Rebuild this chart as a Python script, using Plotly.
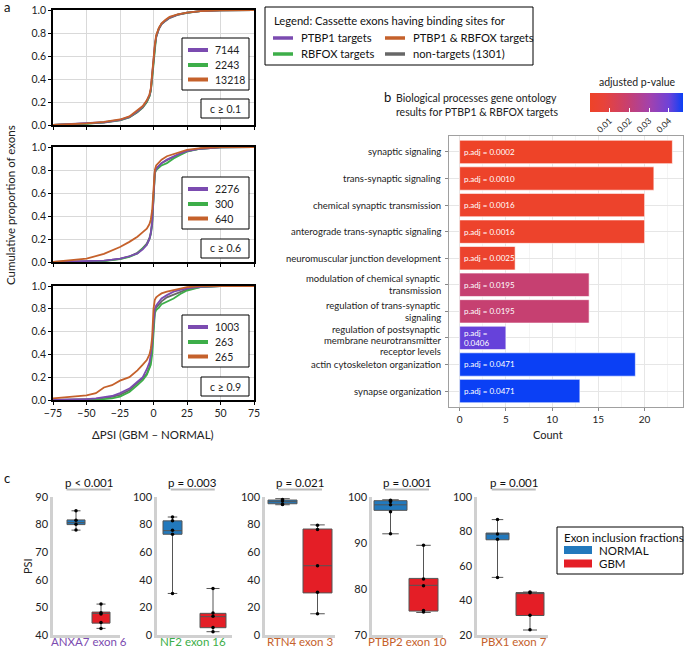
import plotly.graph_objects as go

W, H = 685, 650
def fx(p): return p / W
def fy(p): return 1 - p / H

FONT = "Lato"

# ---------------- Panel a data ----------------
series_names = ["PTBP1 targets", "RBFOX targets", "PTBP1 & RBFOX targets", "non-targets (1301)"]
series_colors = ["#7B4BB0", "#3DAE49", "#C5612B", "#676767"]
thresholds = ["c ≥ 0.1", "c ≥ 0.6", "c ≥ 0.9"]
counts_c01 = [7144, 2243, 13218]
counts_c06 = [2276, 300, 640]
counts_c09 = [1003, 263, 265]

c01_x = [-75, -62, -50, -37, -25, -18, -12, -8, -5, -3, -2, -1, 0, 1, 2, 4, 6, 9, 12, 18, 25, 35, 50, 75]
c01_ptbp1 = [0.0, 0.006, 0.012, 0.024, 0.044, 0.07, 0.12, 0.16, 0.21, 0.26, 0.31, 0.41, 0.56, 0.69, 0.77, 0.84, 0.88, 0.91, 0.935, 0.96, 0.977, 0.99, 0.998, 1.0]
c01_rbfox = [0.0, 0.005, 0.011, 0.022, 0.042, 0.068, 0.115, 0.155, 0.2, 0.25, 0.3, 0.4, 0.55, 0.69, 0.77, 0.84, 0.88, 0.91, 0.935, 0.96, 0.976, 0.99, 0.998, 1.0]
c01_both = [0.0, 0.007, 0.014, 0.027, 0.048, 0.075, 0.125, 0.165, 0.215, 0.265, 0.32, 0.42, 0.57, 0.7, 0.78, 0.845, 0.885, 0.915, 0.94, 0.962, 0.978, 0.99, 0.998, 1.0]
c01_non = [0.0, 0.005, 0.01, 0.02, 0.04, 0.065, 0.11, 0.15, 0.2, 0.25, 0.3, 0.4, 0.55, 0.68, 0.76, 0.835, 0.875, 0.905, 0.93, 0.958, 0.975, 0.99, 0.998, 1.0]

c06_x = [-75, -62, -50, -37, -31, -25, -18, -12, -8, -5, -3, -2, -1, 0, 1, 2, 4, 6, 10, 15, 20, 25, 35, 50, 75]
c06_ptbp1 = [0.0, 0.002, 0.005, 0.012, 0.02, 0.03, 0.05, 0.075, 0.11, 0.15, 0.2, 0.25, 0.34, 0.62, 0.78, 0.81, 0.84, 0.86, 0.89, 0.92, 0.945, 0.965, 0.985, 0.998, 1.0]
c06_rbfox = [0.0, 0.0, 0.003, 0.008, 0.015, 0.025, 0.045, 0.075, 0.12, 0.15, 0.2, 0.24, 0.32, 0.6, 0.77, 0.8, 0.82, 0.84, 0.86, 0.9, 0.93, 0.96, 0.985, 0.998, 1.0]
c06_both = [0.0, 0.015, 0.03, 0.07, 0.1, 0.13, 0.175, 0.22, 0.26, 0.29, 0.33, 0.37, 0.45, 0.62, 0.8, 0.84, 0.87, 0.89, 0.92, 0.94, 0.96, 0.975, 0.99, 1.0, 1.0]
c06_non = [0.0, 0.002, 0.004, 0.01, 0.018, 0.028, 0.048, 0.08, 0.12, 0.16, 0.21, 0.26, 0.35, 0.61, 0.78, 0.81, 0.84, 0.86, 0.885, 0.915, 0.94, 0.965, 0.985, 0.998, 1.0]

c09_x = [-75, -62, -50, -43, -37, -31, -25, -18, -12, -8, -5, -3, -2, -1, 0, 1, 2, 4, 6, 10, 15, 20, 25, 35, 50, 75]
c09_ptbp1 = [0.0, 0.003, 0.008, 0.015, 0.023, 0.035, 0.06, 0.1, 0.16, 0.2, 0.27, 0.33, 0.4, 0.5, 0.67, 0.8, 0.83, 0.86, 0.89, 0.92, 0.95, 0.965, 0.98, 0.993, 1.0, 1.0]
c09_rbfox = [0.0, 0.0, 0.0, 0.003, 0.008, 0.015, 0.03, 0.07, 0.13, 0.175, 0.22, 0.27, 0.31, 0.4, 0.61, 0.76, 0.79, 0.81, 0.84, 0.86, 0.89, 0.93, 0.96, 0.99, 1.0, 1.0]
c09_both = [0.015, 0.03, 0.04, 0.06, 0.11, 0.13, 0.17, 0.2, 0.26, 0.31, 0.35, 0.4, 0.45, 0.55, 0.8, 0.88, 0.9, 0.92, 0.935, 0.95, 0.965, 0.98, 0.99, 1.0, 1.0, 1.0]
c09_non = [0.0, 0.002, 0.005, 0.01, 0.018, 0.028, 0.045, 0.085, 0.15, 0.19, 0.23, 0.29, 0.35, 0.45, 0.64, 0.78, 0.81, 0.84, 0.865, 0.9, 0.925, 0.95, 0.97, 0.99, 1.0, 1.0]

x_ticks_a = [-75, -50, -25, 0, 25, 50, 75]
y_ticks_a = [0.0, 0.2, 0.4, 0.6, 0.8, 1.0]

# ---------------- Panel b data ----------------
go_terms = [
    "synaptic signaling",
    "trans-synaptic signaling",
    "chemical synaptic transmission",
    "anterograde trans-synaptic signaling",
    "neuromuscular junction development",
    "modulation of chemical synaptic<br>transmission",
    "regulation of trans-synaptic<br>signaling",
    "regulation of postsynaptic<br>membrane neurotransmitter<br>receptor levels",
    "actin cytoskeleton organization",
    "synapse organization",
]
go_counts = [23, 21, 20, 20, 6, 14, 14, 5, 19, 13]
go_padj = [0.0002, 0.0010, 0.0016, 0.0016, 0.0025, 0.0195, 0.0195, 0.0406, 0.0471, 0.0471]
count_ticks = [0, 5, 10, 15, 20]
padj_ticks = [0.01, 0.02, 0.03, 0.04]

# ---------------- Panel c data ----------------
genes = ["ANXA7 exon 6", "NF2 exon 16", "RTN4 exon 3", "PTBP2 exon 10", "PBX1 exon 7"]
gene_colors = ["#7B4BB0", "#3DAE49", "#C5612B", "#C5612B", "#C5612B"]
p_labels = ["p < 0.001", "p = 0.003", "p = 0.021", "p = 0.001", "p = 0.001"]
groups = ["NORMAL", "GBM"]
group_colors = ["#2279BD", "#E41E26"]
# stats: [low whisker, q1, median, q3, high whisker]
normal_stats = [
    [78.0, 80.0, 80.7, 81.7, 85.0],
    [30.1, 73.0, 75.6, 82.7, 85.5],
    [94.4, 95.1, 96.6, 97.8, 98.8],
    [92.0, 97.1, 98.3, 99.2, 99.4],
    [53.4, 75.2, 78.5, 79.1, 86.9],
]
gbm_stats = [
    [42.4, 44.3, 47.8, 48.3, 51.2],
    [2.4, 5.3, 13.3, 15.7, 33.7],
    [15.4, 30.5, 50.2, 76.8, 79.8],
    [74.9, 75.2, 80.8, 82.3, 89.5],
    [22.9, 31.3, 44.4, 44.6, 44.9],
]
normal_points = [
    [85.0, 81.6, 80.1, 78.0],
    [85.5, 82.7, 75.9, 73.0, 30.1],
    [98.2, 97.1, 95.0, 94.5],
    [99.3, 99.0, 98.3, 96.8, 92.0],
    [86.9, 78.5, 75.5, 53.4],
]
gbm_points = [
    [51.2, 48.1, 47.6, 44.5, 42.4],
    [33.7, 16.0, 13.5, 5.5, 2.4],
    [79.5, 76.5, 50.2, 31.0, 15.4],
    [89.5, 82.2, 80.7, 75.3, 75.0],
    [44.9, 44.5, 31.5, 23.0],
]
psi_ticks = [
    [40, 50, 60, 70, 80, 90],
    [0, 20, 40, 60, 80, 100],
    [0, 20, 40, 60, 80, 100],
    [70, 80, 90, 100],
    [20, 40, 60, 80, 100],
]
psi_ranges = [[40, 90], [0, 100], [0, 100], [70, 100], [20, 100]]

# ---------------- Layout geometry (pixels) ----------------
a_x = (53, 254)
a_y = [(10, 125), (147, 262), (286, 400)]
b_x = (449, 683)
b_y = (136, 407)
c_y = (497, 635)
# (left, right, center normal, center gbm, width normal, width gbm)
c_geo = [
    (53, 120, 76, 101, 18, 18),
    (157, 232, 172.5, 213, 19, 26),
    (265, 335, 282.5, 317.5, 29, 29),
    (372, 443, 390.5, 423.5, 33, 29),
    (477, 548, 497.5, 530, 23, 28),
]

fig = go.Figure()
layout = dict(
    width=W, height=H, margin=dict(l=0, r=0, t=0, b=0, autoexpand=False),
    paper_bgcolor="white", plot_bgcolor="white",
    font=dict(family=FONT, color="#222", size=11),
    showlegend=False,
)
shapes = []
annotations = []

# ---- Panel a ----
cdf_sets = [
    (c01_x, [c01_ptbp1, c01_rbfox, c01_both, c01_non], counts_c01),
    (c06_x, [c06_ptbp1, c06_rbfox, c06_both, c06_non], counts_c06),
    (c09_x, [c09_ptbp1, c09_rbfox, c09_both, c09_non], counts_c09),
]
draw_order = [3, 1, 0, 2]
for k, (xs, ys_list, cnts) in enumerate(cdf_sets):
    sfx = "" if k == 0 else str(k + 1)
    for s in draw_order:
        fig.add_trace(go.Scatter(
            x=xs, y=ys_list[s], mode="lines", name=series_names[s],
            line=dict(color=series_colors[s], width=1.8),
            xaxis="x" + sfx, yaxis="y" + sfx, hoverinfo="skip"))
    top, bot = a_y[k]
    layout["xaxis" + sfx] = dict(
        domain=[fx(a_x[0]), fx(a_x[1])], anchor="y" + sfx, range=[-75, 75],
        tickvals=x_ticks_a, showticklabels=(k == 2), ticks="outside", ticklen=3,
        tickcolor="black", showline=True, mirror=True, linecolor="black", linewidth=1.5,
        showgrid=True, gridcolor="#D9D9D9", zeroline=False,
        tickfont=dict(size=10.5, color="#222"))
    layout["yaxis" + sfx] = dict(
        domain=[fy(bot), fy(top)], anchor="x" + sfx, range=[0, 1],
        tickvals=y_ticks_a, tickformat=".1f", ticks="outside", ticklen=3,
        tickcolor="black", showline=True, mirror=True, linecolor="black", linewidth=1.5,
        showgrid=True, gridcolor="#D9D9D9", zeroline=False,
        tickfont=dict(size=10.5, color="#222"))
    box_top = [38, 177, 315][k]
    shapes.append(dict(type="rect", xref="paper", yref="paper",
                       x0=fx(182), x1=fx(249), y0=fy(box_top), y1=fy(box_top + 52),
                       line=dict(color="black", width=1), fillcolor="white"))
    rows = [box_top + 12, box_top + 27, box_top + 41.5]
    for i in range(3):
        shapes.append(dict(type="line", xref="paper", yref="paper",
                           x0=fx(188), x1=fx(208), y0=fy(rows[i]), y1=fy(rows[i]),
                           line=dict(color=series_colors[i], width=4)))
        annotations.append(dict(xref="paper", yref="paper", x=fx(213), y=fy(rows[i]),
                                text=str(cnts[i]), showarrow=False, xanchor="left",
                                yanchor="middle", font=dict(size=10.5, color="#222")))
    cb_top = [99, 239, 377][k]
    shapes.append(dict(type="rect", xref="paper", yref="paper",
                       x0=fx(201), x1=fx(249), y0=fy(cb_top), y1=fy(cb_top + 19),
                       line=dict(color="black", width=1), fillcolor="white"))
    annotations.append(dict(xref="paper", yref="paper", x=fx(225), y=fy(cb_top + 9.5),
                            text=thresholds[k], showarrow=False, xanchor="center",
                            yanchor="middle", font=dict(size=10.5, color="#222")))

annotations += [
    dict(xref="paper", yref="paper", x=fx(2), y=fy(7), text="a", showarrow=False,
         xanchor="left", yanchor="middle", font=dict(size=13, color="#111")),
    dict(xref="paper", yref="paper", x=fx(10), y=fy(205), text="Cumulative proportion of exons",
         showarrow=False, textangle=-90, xanchor="center", yanchor="middle",
         font=dict(size=11.5, color="#222")),
    dict(xref="paper", yref="paper", x=fx(153), y=fy(435), text="ΔPSI (GBM – NORMAL)",
         showarrow=False, xanchor="center", yanchor="middle", font=dict(size=11.5, color="#222")),
]

# main legend box
shapes.append(dict(type="rect", xref="paper", yref="paper", x0=fx(265), x1=fx(533),
                   y0=fy(7), y1=fy(65), line=dict(color="black", width=1), fillcolor="white"))
annotations.append(dict(xref="paper", yref="paper", x=fx(272), y=fy(20),
                        text="Legend: Cassette exons having binding sites for", showarrow=False,
                        xanchor="left", yanchor="middle", font=dict(size=11.2, color="#111")))
leg_pos = {0: (273, 38), 2: (385, 38), 1: (273, 54), 3: (385, 54)}
for s, (lx, ly) in leg_pos.items():
    shapes.append(dict(type="line", xref="paper", yref="paper", x0=fx(lx), x1=fx(lx + 20),
                       y0=fy(ly), y1=fy(ly), line=dict(color=series_colors[s], width=3.5)))
    annotations.append(dict(xref="paper", yref="paper", x=fx(lx + 26), y=fy(ly),
                            text=series_names[s], showarrow=False, xanchor="left",
                            yanchor="middle", font=dict(size=11.2, color="#111")))

# ---- Panel b ----
pmin, pmax = 0.0002, 0.0471
colorscale = [[0.0, "#EE4328"], [0.15, "#E8433A"], [0.4, "#C8406E"], [0.65, "#A142AE"],
              [0.85, "#6E42D8"], [1.0, "#0B40F5"]]
fig.add_trace(go.Bar(
    x=go_counts, y=go_terms, orientation="h", width=0.88,
    marker=dict(color=go_padj, colorscale=colorscale, cmin=pmin, cmax=pmax,
                line=dict(color="white", width=0.6),
                colorbar=dict(orientation="h", x=fx(636.5), xanchor="center",
                              y=fy(93), yanchor="top", len=93, lenmode="pixels",
                              thickness=19, thicknessmode="pixels",
                              tickvals=padj_ticks, ticktext=[f"{v:.2f}" for v in padj_ticks],
                              tickangle=-45, ticks="inside", tickcolor="white", ticklen=4,
                              outlinewidth=0, xpad=0, ypad=0,
                              tickfont=dict(size=8.5, color="#222"))),
    xaxis="x4", yaxis="y4", hoverinfo="skip"))
layout["xaxis4"] = dict(
    domain=[fx(b_x[0]), fx(b_x[1])], anchor="y4", range=[-1.15, 24.15],
    tickvals=count_ticks, ticks="outside", ticklen=3, tickcolor="#888",
    showline=True, mirror=True, linecolor="#A0A0A0", linewidth=1,
    showgrid=True, gridcolor="#E6E6E6", zeroline=False,
    minor=dict(dtick=2.5, tick0=0, showgrid=True, gridcolor="#F4F4F4"),
    tickfont=dict(size=10, color="#222"))
layout["yaxis4"] = dict(
    domain=[fy(b_y[1]), fy(b_y[0])], anchor="x4", type="category",
    categoryorder="array", categoryarray=go_terms, range=[len(go_terms) - 0.4, -0.6],
    ticks="outside", ticklen=3, tickcolor="#888", showticklabels=False,
    showline=True, mirror=True, linecolor="#A0A0A0", linewidth=1,
    showgrid=True, gridcolor="#E6E6E6", zeroline=False)
# category labels, one text per line with tight line spacing
line_offsets = {1: [0], 2: [-6, 6], 3: [-8.5, 2.5, 13.5]}
for term in go_terms:
    parts = term.split("<br>")
    for part, off in zip(parts, line_offsets[len(parts)]):
        annotations.append(dict(xref="paper", yref="y4", x=fx(442.5), y=term, yshift=-off,
                                text=part, showarrow=False, xanchor="right", yanchor="middle",
                                font=dict(size=9.5, color="#222")))
for term, cnt, pv in zip(go_terms, go_counts, go_padj):
    label = f"p.adj = {pv:.4f}" if cnt > 5 else f"p.adj =<br>{pv:.4f}"
    annotations.append(dict(xref="x4", yref="y4", x=0, y=term, text=label, showarrow=False,
                            xanchor="left", yanchor="middle", xshift=2, align="left",
                            font=dict(size=8, color="white")))
annotations += [
    dict(xref="paper", yref="paper", x=fx(382), y=fy(97), text="b", showarrow=False,
         xanchor="left", yanchor="middle", font=dict(size=13, color="#111")),
    dict(xref="paper", yref="paper", x=fx(394), y=fy(105),
         text="Biological processes gene ontology<br>results for PTBP1 & RBFOX targets",
         showarrow=False, xanchor="left", yanchor="middle", align="left",
         font=dict(size=10.5, color="#222")),
    dict(xref="paper", yref="paper", x=fx(548), y=fy(435), text="Count", showarrow=False,
         xanchor="center", yanchor="middle", font=dict(size=11, color="#222")),
    dict(xref="paper", yref="paper", x=fx(637), y=fy(82), text="adjusted p-value",
         showarrow=False, xanchor="center", yanchor="middle", font=dict(size=10.5, color="#222")),
]

# ---- Panel c ----
for g in range(5):
    n = g + 5
    xa, ya = f"x{n}", f"y{n}"
    L, R, cN, cG, wN, wG = c_geo[g]
    unit = cG - cN
    xr = [-(cN - L) / unit, 1 + (R - cG) / unit]
    for gi, (stats, pts, width_px) in enumerate([(normal_stats[g], normal_points[g], wN),
                                                  (gbm_stats[g], gbm_points[g], wG)]):
        fig.add_trace(go.Box(
            x=[groups[gi]], lowerfence=[stats[0]], q1=[stats[1]], median=[stats[2]],
            q3=[stats[3]], upperfence=[stats[4]], width=width_px / unit,
            fillcolor=group_colors[gi], line=dict(color="#555", width=1),
            whiskerwidth=0.5, boxpoints=False, xaxis=xa, yaxis=ya, hoverinfo="skip"))
        fig.add_trace(go.Scatter(
            x=[groups[gi]] * len(pts), y=pts, mode="markers",
            marker=dict(color="black", size=3.5), xaxis=xa, yaxis=ya, hoverinfo="skip"))
    layout["xaxis" + str(n)] = dict(
        domain=[fx(L), fx(R)], anchor=ya, type="category", categoryorder="array",
        categoryarray=groups, range=xr, showticklabels=False, ticks="",
        showline=True, linecolor="#D0D0D0", linewidth=2.5, showgrid=False, zeroline=False)
    layout["yaxis" + str(n)] = dict(
        domain=[fy(c_y[1]), fy(c_y[0])], anchor=xa, range=psi_ranges[g],
        tickvals=psi_ticks[g], ticks="", showline=True, linecolor="#D0D0D0", linewidth=2.5,
        showgrid=False, zeroline=False, tickfont=dict(size=11, color="#222"))
    mid = (cN + cG) / 2
    annotations.append(dict(xref="paper", yref="paper", x=fx(mid), y=fy(650),
                            text=genes[g], showarrow=False, xanchor="center", yanchor="bottom",
                            font=dict(size=11.5, color=gene_colors[g])))
    annotations.append(dict(xref="paper", yref="paper", x=fx(mid), y=fy(482),
                            text=p_labels[g], showarrow=False, xanchor="center", yanchor="middle",
                            font=dict(size=11.5, color="#111")))
    shapes.append(dict(type="line", xref="paper", yref="paper", x0=fx(mid - 22), x1=fx(mid + 22),
                       y0=fy(489.5), y1=fy(489.5), line=dict(color="#BBBBBB", width=2)))

annotations += [
    dict(xref="paper", yref="paper", x=fx(2), y=fy(478), text="c", showarrow=False,
         xanchor="left", yanchor="middle", font=dict(size=13, color="#111")),
    dict(xref="paper", yref="paper", x=fx(27), y=fy(566), text="PSI", showarrow=False,
         textangle=-90, xanchor="center", yanchor="middle", font=dict(size=11, color="#222")),
]
# panel c legend
shapes.append(dict(type="rect", xref="paper", yref="paper", x0=fx(557), x1=fx(683),
                   y0=fy(527), y1=fy(574), line=dict(color="black", width=1), fillcolor="white"))
annotations.append(dict(xref="paper", yref="paper", x=fx(562), y=fy(537.5),
                        text="Exon inclusion fractions", showarrow=False, xanchor="left",
                        yanchor="middle", font=dict(size=11.5, color="#111")))
for gi, yy in enumerate([550, 563.5]):
    shapes.append(dict(type="rect", xref="paper", yref="paper", x0=fx(564), x1=fx(592),
                       y0=fy(yy + 4), y1=fy(yy - 4), line=dict(width=0),
                       fillcolor=group_colors[gi]))
    annotations.append(dict(xref="paper", yref="paper", x=fx(597), y=fy(yy),
                            text=groups[gi], showarrow=False, xanchor="left",
                            yanchor="middle", font=dict(size=11.5, color="#111")))

layout["shapes"] = shapes
layout["annotations"] = annotations
fig.update_layout(**layout)
fig.write_html("out.html", config={"displayModeBar": False},
               post_script="document.body.style.margin='0px';document.body.style.overflow='hidden';")
